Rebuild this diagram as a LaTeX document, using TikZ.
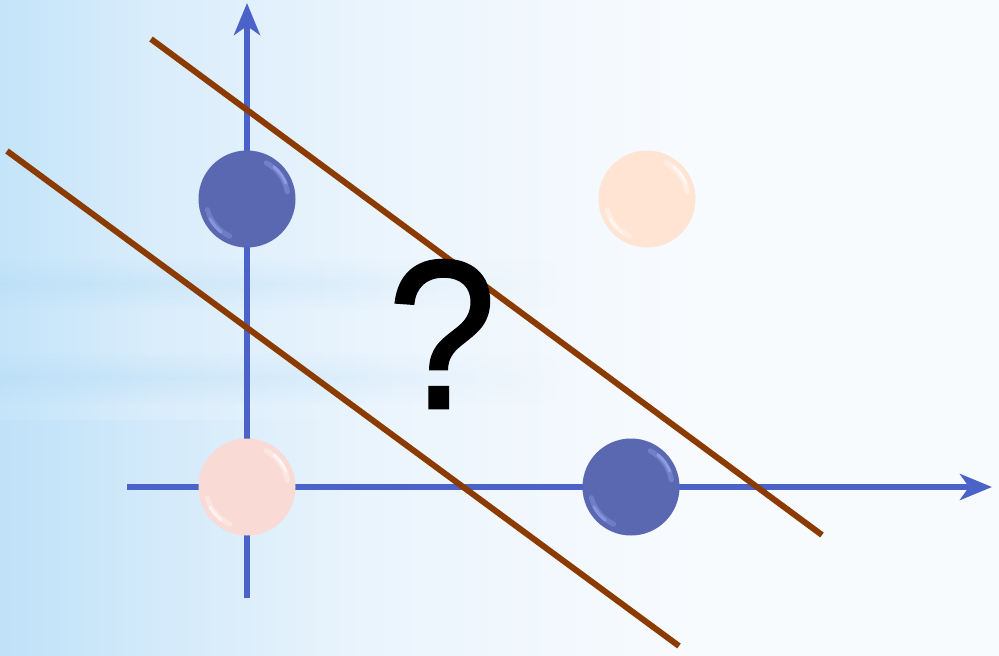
\documentclass[tikz,border=0pt]{standalone}
\usepackage{fontspec}
\setmainfont{Liberation Sans}
\usetikzlibrary{arrows.meta,fadings}
\definecolor{axisblue}{RGB}{75,99,201}
\definecolor{brownline}{RGB}{139,58,0}
\definecolor{ballblue}{RGB}{90,104,178}
\definecolor{ballhi}{RGB}{160,175,240}
\definecolor{peach}{RGB}{255,228,212}
\definecolor{pinkball}{RGB}{250,218,212}
\definecolor{bgA}{RGB}{196,228,249}
\definecolor{bgB}{RGB}{218,237,251}
\definecolor{bgC}{RGB}{236,245,253}
\definecolor{bgD}{RGB}{248,251,254}
\definecolor{bandblue}{RGB}{185,222,247}
\pgfdeclarehorizontalshading{bgshade}{100bp}{color(0bp)=(bgA); color(25bp)=(bgA); color(33bp)=(bgB); color(45bp)=(bgC); color(60bp)=(bgD); color(100bp)=(bgD)}
\tikzfading[name=fadeR, left color=transparent!0, right color=transparent!100]
\tikzset{
  axis/.style={draw=axisblue, line width=6pt, -{Stealth[length=32pt,width=26pt,inset=9pt]}},
  sepline/.style={draw=brownline, line width=6pt},
  ball/.style={circle, minimum size=97pt, inner sep=0pt},
  darkball/.style={ball, fill=ballblue},
  peachball/.style={ball, fill=peach},
  pinkball/.style={ball, fill=pinkball},
}
\newcommand{\shine}[2]{%
  \draw[#2, line width=5pt, opacity=0.35, line cap=round] ([shift={(62:41pt)}]#1.center) arc[start angle=62, end angle=10, radius=41pt];
  \draw[#2, line width=3pt, opacity=0.6, line cap=round] ([shift={(50:42pt)}]#1.center) arc[start angle=50, end angle=22, radius=42pt];
  \draw[#2, line width=5pt, opacity=0.3, line cap=round] ([shift={(245:41pt)}]#1.center) arc[start angle=245, end angle=195, radius=41pt];
  \draw[#2, line width=3pt, opacity=0.5, line cap=round] ([shift={(232:42pt)}]#1.center) arc[start angle=232, end angle=208, radius=42pt];
}
\newcommand{\bgband}[2]{%
  \foreach \k in {-8,...,8} {
    \pgfmathsetmacro{\op}{#2*(1-abs(\k)/9)}
    \fill[bandblue, opacity=\op, path fading=fadeR] (0,{#1+3*\k-1.5}) rectangle (560,{#1+3*\k+1.5});
  }
}
\begin{document}
\begin{tikzpicture}[x=1pt,y=-1pt]
\useasboundingbox (0,0) rectangle (999,656);
% background
\shade[shading=bgshade] (0,0) rectangle (999,656);
\fill[bandblue, opacity=0.35, path fading=fadeR] (0,420) rectangle (320,656);
\bgband{284}{0.55}
\bgband{378}{0.6}
% axes
\coordinate (ybot) at (247,598);
\coordinate (ytop) at (247,3);
\coordinate (xleft) at (127,487);
\coordinate (xright) at (992,487);
\draw[axis] (ybot) -- (ytop);
\draw[axis] (xleft) -- (xright);
% separating lines
\coordinate (l1a) at (151,39);
\coordinate (l1b) at (822,535);
\coordinate (l2a) at (7,151);
\coordinate (l2b) at (679,646);
\draw[sepline] (l1a) -- (l1b);
\draw[sepline] (l2a) -- (l2b);
% balls
\node[darkball] (b1) at (247,199) {};
\node[peachball] (b2) at (647,199) {};
\node[pinkball] (b3) at (247,487) {};
\node[darkball] (b4) at (631,487) {};
\shine{b1}{ballhi}
\shine{b4}{ballhi}
\shine{b2}{white}
\shine{b3}{white}
% question mark
\node[inner sep=0pt, xscale=0.92, font=\fontsize{212}{212}\selectfont] (q) at (442,334) {\addfontfeature{FakeBold=1.2}?};
\end{tikzpicture}
\end{document}
